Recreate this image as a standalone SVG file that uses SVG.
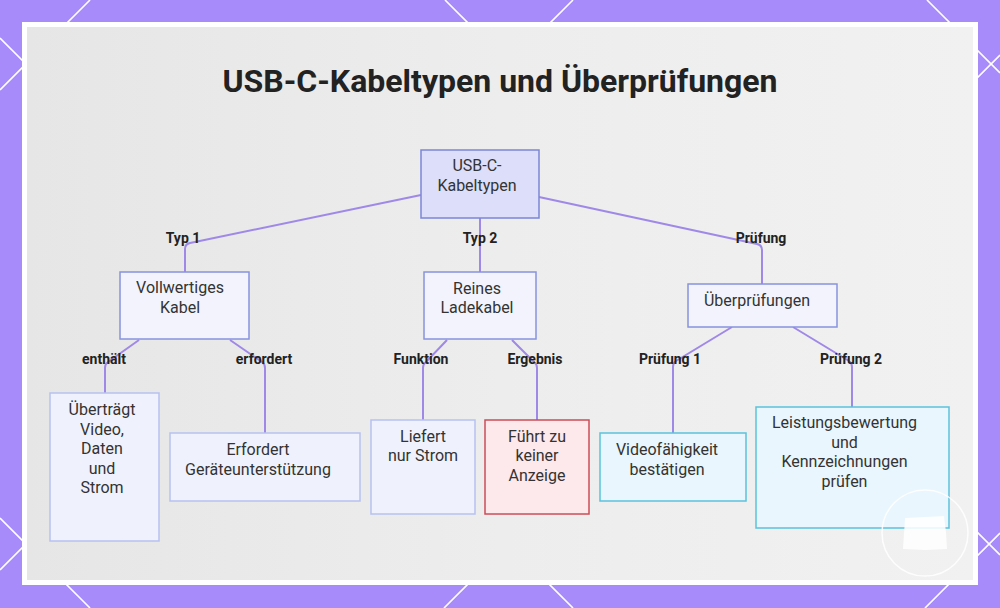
<svg xmlns="http://www.w3.org/2000/svg" width="1000" height="608" viewBox="0 0 1000 608">
  <defs>
    <linearGradient id="panelGrad" x1="0" y1="0" x2="1" y2="0">
      <stop offset="0" stop-color="#e6e6e6"/>
      <stop offset="0.5" stop-color="#ededed"/>
      <stop offset="1" stop-color="#f1f1f1"/>
    </linearGradient>
    <style>
      .bgline { stroke: #ffffff; stroke-width: 1.6; fill: none; }
      .edge { stroke: #9f88e8; stroke-width: 2; fill: none; }
      .elabel { font-family: Roboto, "Liberation Sans", sans-serif; font-size: 14px; font-weight: bold; fill: #222222; text-anchor: middle; }
      .ntext { font-family: Roboto, "Liberation Sans", sans-serif; font-size: 16px; fill: #333333; text-anchor: middle; }
      .title { font-family: Roboto, "Liberation Sans", sans-serif; font-size: 32px; font-weight: bold; fill: #222222; text-anchor: middle; }
      .root { fill: #dcdefa; stroke: #7b86d6; stroke-width: 1.5; }
      .lvl1 { fill: #f2f3fd; stroke: #8893de; stroke-width: 1.5; }
      .leaf { fill: #eff2fd; stroke: #b7c1f0; stroke-width: 1.5; }
      .warn { fill: #fde8ec; stroke: #cc4c57; stroke-width: 1.5; }
      .check { fill: #e9f6fd; stroke: #5ac2dc; stroke-width: 1.5; }
    </style>
  </defs>

  <!-- background -->
  <rect x="0" y="0" width="1000" height="608" fill="#a78bfa"/>
  <g id="bg-lines">
    <line class="bgline" x1="90" y1="0" x2="0" y2="90"/>
    <line class="bgline" x1="0" y1="38" x2="60" y2="98"/>
    <line class="bgline" x1="445" y1="0" x2="545" y2="100"/>
    <line class="bgline" x1="573" y1="0" x2="473" y2="100"/>
    <line class="bgline" x1="927" y1="0" x2="1000" y2="73"/>
    <line class="bgline" x1="1000" y1="55" x2="955" y2="100"/>
    <line class="bgline" x1="0" y1="518" x2="90" y2="608"/>
    <line class="bgline" x1="0" y1="570" x2="60" y2="510"/>
    <line class="bgline" x1="444" y1="608" x2="544" y2="508"/>
    <line class="bgline" x1="573" y1="608" x2="473" y2="508"/>
    <line class="bgline" x1="925" y1="608" x2="1000" y2="533"/>
    <line class="bgline" x1="1000" y1="555" x2="950" y2="505"/>
  </g>

  <!-- panel -->
  <rect x="22" y="22" width="956" height="563" fill="#ffffff"/>
  <rect x="27" y="27" width="946" height="553" fill="url(#panelGrad)"/>

  <text class="title" x="500" y="92">USB-C-Kabeltypen und Überprüfungen</text>

  <!-- connectors -->
  <g id="connectors">
    <path class="edge" d="M421,195 L190,243 Q185,244 185,249 L185,272"/>
    <path class="edge" d="M480,218 L480,272"/>
    <path class="edge" d="M539,197 L757,244 Q762,245 762,250 L762,284"/>
    <path class="edge" d="M139,340 L108,362 Q105,364 105,368 L105,393"/>
    <path class="edge" d="M230,340 L262,362 Q265,364 265,368 L265,433"/>
    <path class="edge" d="M447,340 L426,362 Q423,364 423,368 L423,420"/>
    <path class="edge" d="M512,340 L534,362 Q537,364 537,368 L537,420"/>
    <path class="edge" d="M732,327 L676,361 Q673,363 673,367 L673,433"/>
    <path class="edge" d="M793,327 L849,361 Q852,363 852,367 L852,407"/>
    <text class="elabel" x="183" y="243">Typ 1</text>
    <text class="elabel" x="480" y="243">Typ 2</text>
    <text class="elabel" x="761" y="243">Prüfung</text>
    <text class="elabel" x="104" y="364">enthält</text>
    <text class="elabel" x="264" y="364">erfordert</text>
    <text class="elabel" x="421" y="364">Funktion</text>
    <text class="elabel" x="535" y="364">Ergebnis</text>
    <text class="elabel" x="670" y="364">Prüfung 1</text>
    <text class="elabel" x="851" y="364">Prüfung 2</text>
  </g>

  <!-- nodes -->
  <g id="node-root">
    <rect class="root" x="421" y="150" width="118" height="68"/>
    <text class="ntext" x="477" y="171">USB-C-</text>
    <text class="ntext" x="477" y="190.5">Kabeltypen</text>
  </g>
  <g id="node-vollwertig">
    <rect class="lvl1" x="120" y="272" width="129" height="67"/>
    <text class="ntext" x="180" y="293">Vollwertiges</text>
    <text class="ntext" x="180" y="312.5">Kabel</text>
  </g>
  <g id="node-uebertraegt">
    <rect class="leaf" x="50" y="393" width="109" height="148"/>
    <text class="ntext" x="102" y="415">Überträgt</text>
    <text class="ntext" x="102" y="434.5">Video,</text>
    <text class="ntext" x="102" y="454">Daten</text>
    <text class="ntext" x="102" y="473.5">und</text>
    <text class="ntext" x="102" y="493">Strom</text>
  </g>
  <g id="node-erfordert">
    <rect class="leaf" x="170" y="433" width="190" height="68"/>
    <text class="ntext" x="258" y="455">Erfordert</text>
    <text class="ntext" x="258" y="474.5">Geräteunterstützung</text>
  </g>
  <g id="node-reines">
    <rect class="lvl1" x="424" y="272" width="112" height="67"/>
    <text class="ntext" x="477" y="293.5">Reines</text>
    <text class="ntext" x="477" y="313">Ladekabel</text>
  </g>
  <g id="node-liefert">
    <rect class="leaf" x="371" y="420" width="104" height="94"/>
    <text class="ntext" x="423" y="441.5">Liefert</text>
    <text class="ntext" x="423" y="461">nur Strom</text>
  </g>
  <g id="node-fuehrt">
    <rect class="warn" x="485" y="420" width="104" height="94"/>
    <text class="ntext" x="537" y="441.5">Führt zu</text>
    <text class="ntext" x="537" y="461">keiner</text>
    <text class="ntext" x="537" y="480.5">Anzeige</text>
  </g>
  <g id="node-ueberpruefungen">
    <rect class="lvl1" x="688" y="284" width="149" height="43"/>
    <text class="ntext" x="757" y="306">Überprüfungen</text>
  </g>
  <g id="node-video">
    <rect class="check" x="600" y="433" width="146" height="68"/>
    <text class="ntext" x="667" y="455">Videofähigkeit</text>
    <text class="ntext" x="667" y="474.5">bestätigen</text>
  </g>
  <g id="node-leistung">
    <rect class="check" x="756" y="407" width="193" height="121"/>
    <text class="ntext" x="844.5" y="428">Leistungsbewertung</text>
    <text class="ntext" x="844.5" y="447.5">und</text>
    <text class="ntext" x="844.5" y="467">Kennzeichnungen</text>
    <text class="ntext" x="844.5" y="486.5">prüfen</text>
  </g>

  <!-- corner badge -->
  <g id="badge">
    <circle cx="925" cy="533" r="43" fill="none" stroke="#ffffff" stroke-width="1.5" opacity="0.85"/>
    <path d="M905,518 L944,516 L946,532 L947,549 L925,550 L903,549 Z" fill="#ffffff" opacity="0.85"/>
  </g>
</svg>
